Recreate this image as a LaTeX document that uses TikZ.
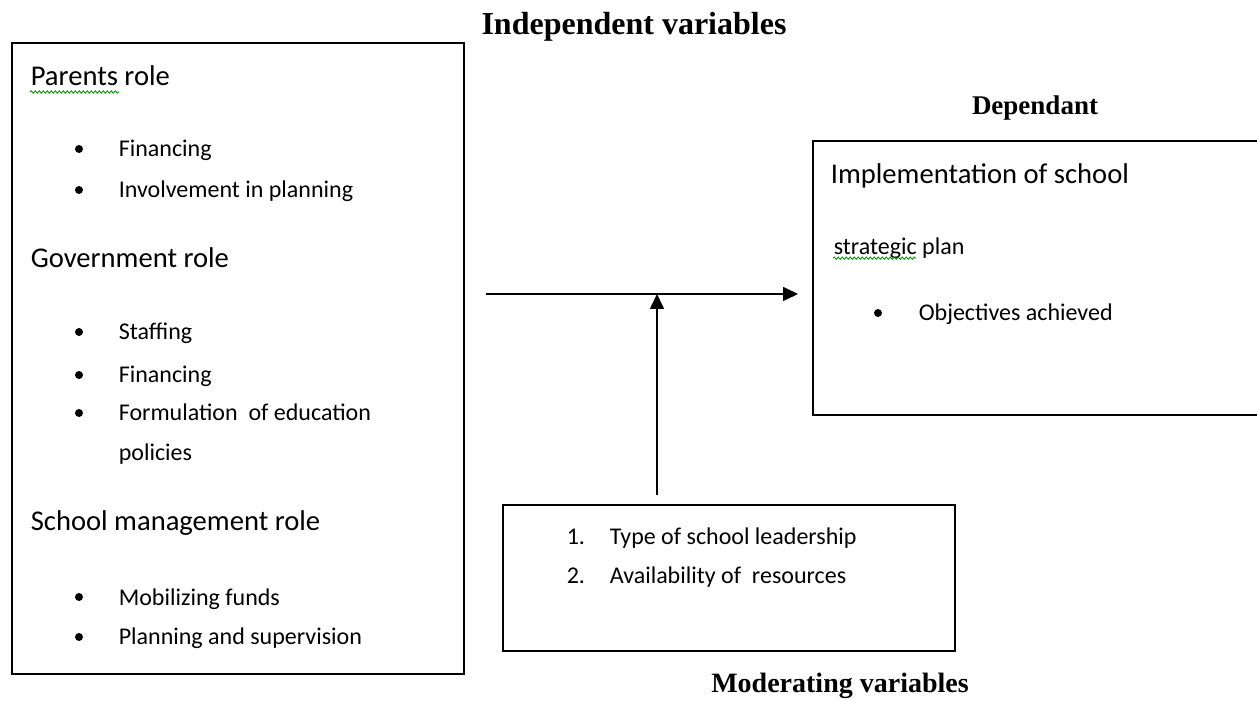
\documentclass[tikz,border=0pt]{standalone}
\usepackage{fontspec}
\setmainfont{Carlito}
\newfontfamily\headfont{Liberation Serif}
\usetikzlibrary{positioning, arrows.meta, decorations.pathmorphing}

\tikzset{
	box/.style={draw, line width=0.9pt, anchor=north west, inner sep=0},
	head/.style={font=\headfont\bfseries\fontsize{14pt}{16pt}\selectfont, anchor=base, inner sep=0},
	role/.style={font=\fontsize{14.3pt}{17pt}\selectfont, anchor=base west, inner sep=0},
	item/.style={font=\fontsize{12pt}{14pt}\selectfont, anchor=base west, inner sep=0},
	dot/.style={circle, fill, inner sep=0, minimum size=4pt},
	spell/.style={draw=green!55!black, line width=0.4pt, decorate, decoration={snake, amplitude=0.6pt, segment length=2pt}}
}

\begin{document}
\begin{tikzpicture}[x=0.5pt, y=-0.5pt, >={Triangle[length=7.5pt,width=7pt]}, line width=0.8pt]
		\useasboundingbox (0,0) rectangle (1257,704);

		\node[box, minimum width=226pt, minimum height=315.5pt] (indep) at (11,42) {};
		\node[box, minimum width=225pt, minimum height=137pt] (dep) at (812,140) {};
		\node[box, minimum width=226pt, minimum height=73pt] (moder) at (502,504) {};

		\node[head, font=\headfont\bfseries\fontsize{16pt}{18pt}\selectfont] (t-indep) at (634,35) {Independent variables};
		\node[head, font=\headfont\bfseries\fontsize{13.5pt}{16pt}\selectfont] (t-dep) at (1035,115) {Dependant};
		\node[head] (t-moder) at (840,692) {Moderating variables};

		% independent variables
		\node[role] (parents) at (30,86) {Parents role};
		\node[role] (govt) at (30,268) {Government role};
		\node[role] (mgmt) at (30,531) {School management role};
		\draw[spell] ([yshift=-3pt]parents.base west) -- ++(89,0);

		\foreach \n/\y/\t in {fin1/157/Financing, inv/198/Involvement in planning, staff/340/Staffing, fin2/383/Financing, form/421/Formulation\ \ of education, mob/605/Mobilizing funds, plan/645/Planning and supervision} {
			\node[item] (\n) at (118,\y) {\t};
			\node[dot] (\n-dot) at (79,{\y-8}) {};
		}
		\node[item] (pol) at (118,461) {policies};

		% dependant
		\node[role] (impl) at (830,184) {Implementation of school};
		\node[item] (strat) at (833,255) {strategic plan};
		\draw[spell] ([yshift=-1.6pt]strat.base west) -- ++(83,0);
		\node[item] (obj) at (918,321) {Objectives achieved};
		\node[dot] (obj-dot) at (878,313) {};

		% moderating
		\node[item] (n1) at (566,545) {1.};
		\node[item] (lead) at (609,545) {Type of school leadership};
		\node[item] (n2) at (566,584) {2.};
		\node[item] (res) at (609,584) {Availability of\ \ resources};

		\coordinate (from) at (486,294);
		\coordinate (join) at (657,294);
		\draw[->, shorten >=7pt] (from) -- (dep.west |- from);
		\draw[->, shorten <=4.5pt] (moder.north -| join) -- (join);

	\end{tikzpicture}
\end{document}
